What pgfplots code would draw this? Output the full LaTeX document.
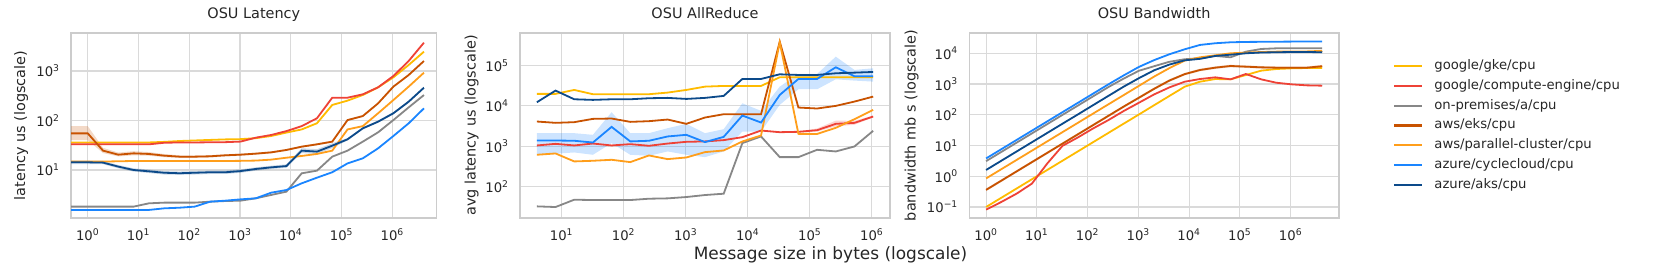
\documentclass[border=0pt]{standalone}
\usepackage{pgfplots}
\pgfplotsset{compat=1.18}
\usepackage{fontspec}
\setmainfont{DejaVu Sans}
\definecolor{cgke}{HTML}{FFBB00}
\definecolor{cgce}{HTML}{EE4236}
\definecolor{cprem}{HTML}{878787}
\definecolor{ceks}{HTML}{C85200}
\definecolor{cpc}{HTML}{FF9E1B}
\definecolor{ccc}{HTML}{1A85FF}
\definecolor{caks}{HTML}{0C4A8A}
\definecolor{spine}{HTML}{CCCCCC}
\definecolor{gridc}{HTML}{DADADA}
\definecolor{txt}{HTML}{262626}
\newcommand{\tl}[1]{10\textsuperscript{#1}}
\pgfplotsset{
  myosu/.style={
    scale only axis, anchor=south west,
    axis line style={draw=spine, line width=1.08pt},
    grid=major, major grid style={draw=gridc, line width=0.86pt},
    tick style={draw=none}, minor tick style={draw=none},
    tick label style={font=\fontsize{9.5}{11}\selectfont, text=txt},
    xticklabel style={anchor=base, yshift=-16.3pt, inner sep=0pt},
    yticklabel style={anchor=east, xshift=-7.9pt, inner sep=0pt},
    title style={font=\fontsize{10.4}{12}\selectfont, text=txt, at={(0.5,1)}, anchor=base, yshift=4.5pt, inner sep=0pt},
    ylabel style={font=\fontsize{10.4}{12}\selectfont, text=txt, anchor=center, inner sep=0pt},
    every axis plot/.append style={line width=1.3pt},
  }
}
\begin{document}
\begin{tikzpicture}
\useasboundingbox (0,0) rectangle (1195.92pt,189.36pt);
%%%%%%%%%%%%%%%% Panel 1: Latency
\begin{axis}[myosu, xmode=log, ymode=log, at={(51.12pt,32.4pt)}, width=263.3pt, height=133.2pt,
  xmin=0.4677, xmax=7.48e6, ymin=1.072, ymax=5860,
  xtick={1,10,100,1000,10000,100000,1000000},
  xticklabels={\tl{0},\tl{1},\tl{2},\tl{3},\tl{4},\tl{5},\tl{6}},
  ytick={10,100,1000}, yticklabels={\tl{1},\tl{2},\tl{3}},
  title={OSU Latency}, ylabel={latency us (logscale)},
  ylabel style={at={(axis description cs:-0.1366,0.5)}}]
% bands (upper forward, lower backward)
\addplot[fill=ceks, fill opacity=0.22, draw=none, forget plot] coordinates {(0.45,77)(1,77)(2,28)(4,22.5)(8,24)(16,23)(32,21)(64,19.8)(128,19.6)(256,19.9)(512,20.8)(1024,21.4)(2048,22.4)(4096,23.7)(8192,26.5)(16384,31)(32768,34.5)(65536,39)(131072,106)(262144,128)(524288,230)(1048576,500)(2097152,860)(4194304,1650)
(4194304,1535)(2097152,800)(1048576,466)(524288,214)(262144,118)(131072,98)(65536,35.8)(32768,31.6)(16384,28.3)(8192,24.3)(4096,21.7)(2048,20.4)(1024,19.4)(512,18.8)(256,17.9)(128,17.6)(64,17.5)(32,18.2)(16,19.4)(8,19.8)(4,18.8)(2,22)(1,40)(0.45,40)} -- cycle;
\addplot[fill=caks, fill opacity=0.22, draw=none, forget plot] coordinates {(0.45,15.4)(1,15.4)(2,15.2)(4,12.6)(8,10.8)(16,10.2)(32,9.5)(64,9.3)(128,9.5)(256,9.7)(512,9.7)(1024,10.3)(2048,11.3)(4096,12.2)(8192,13.0)(16384,27.5)(32768,26.3)(65536,34.7)(131072,44)(262144,73)(524288,100)(1048576,148)(2097152,253)(4194304,485)
(4194304,437)(2097152,228)(1048576,133)(524288,90)(262144,66)(131072,39.5)(65536,27.7)(32768,21)(16384,22)(8192,11.1)(4096,10.5)(2048,9.7)(1024,8.8)(512,8.3)(256,8.3)(128,8.1)(64,8.0)(32,8.1)(16,8.7)(8,9.3)(4,10.8)(2,13.1)(1,13.2)(0.45,13.2)} -- cycle;
% lines
\addplot[cgke] coordinates {(0.45,36)(1,36)(2,36)(4,36)(8,36)(16,36)(32,37)(64,38.5)(128,39.5)(256,40.5)(512,41.5)(1024,42)(2048,44)(4096,48.6)(8192,57)(16384,66)(32768,88)(65536,206)(131072,252)(262144,328)(524288,468)(1048576,745)(2097152,1323)(4194304,2457)};
\addplot[cgce] coordinates {(0.45,33)(1,33)(2,33)(4,33)(8,33)(16,33)(32,35.5)(64,36)(128,36)(256,36.3)(512,36.5)(1024,37.5)(2048,45)(4096,51)(8192,61)(16384,77)(32768,111)(65536,289)(131072,289)(262144,338)(524288,468)(1048576,793)(2097152,1592)(4194304,3735)};
\addplot[cprem] coordinates {(0.45,1.82)(1,1.82)(2,1.82)(4,1.82)(8,1.82)(16,2.12)(32,2.19)(64,2.19)(128,2.19)(256,2.29)(512,2.36)(1024,2.40)(2048,2.68)(4096,3.13)(8192,3.65)(16384,8.57)(32768,9.7)(65536,18.6)(131072,24.6)(262144,37.4)(524288,57.7)(1048576,102)(2097152,184)(4194304,327)};
\addplot[ceks] coordinates {(0.45,55)(1,55)(2,24.6)(4,20.4)(8,21.7)(16,21.1)(32,19.5)(64,18.6)(128,18.6)(256,18.9)(512,19.8)(1024,20.4)(2048,21.4)(4096,22.7)(8192,25.4)(16384,29.6)(32768,33)(65536,37.4)(131072,102)(262144,123)(524288,222)(1048576,483)(2097152,830)(4194304,1592)};
\addplot[cpc] coordinates {(0.45,14.8)(1,14.8)(2,14.8)(4,15)(8,15.2)(16,15.2)(32,15.2)(64,15.2)(128,15.2)(256,15.2)(512,15.2)(1024,15.3)(2048,15.5)(4096,16.2)(8192,17.7)(16384,19.2)(32768,21.1)(65536,24.6)(131072,66)(262144,77)(524288,140)(1048576,259)(2097152,483)(4194304,925)};
\addplot[ccc] coordinates {(0.45,1.56)(1,1.56)(2,1.56)(4,1.56)(8,1.56)(16,1.56)(32,1.68)(64,1.73)(128,1.82)(256,2.29)(512,2.40)(1024,2.55)(2048,2.68)(4096,3.48)(8192,3.94)(16384,5.38)(32768,7.0)(65536,9.0)(131072,13.6)(262144,17.2)(524288,27.4)(1048576,48.6)(2097152,87.7)(4194304,176)};
\addplot[caks] coordinates {(0.45,14.3)(1,14.3)(2,14.1)(4,11.7)(8,10.0)(16,9.4)(32,8.8)(64,8.6)(128,8.8)(256,9.0)(512,9.0)(1024,9.5)(2048,10.5)(4096,11.3)(8192,12.0)(16384,24.6)(32768,23.5)(65536,31)(131072,41.7)(262144,69.5)(524288,94.7)(1048576,140)(2097152,240)(4194304,460)};
\end{axis}
%%%%%%%%%%%%%%%% Panel 2: AllReduce
\begin{axis}[myosu, xmode=log, ymode=log, at={(374.4pt,32.4pt)}, width=266.4pt, height=133.2pt,
  xmin=2.14, xmax=1.96e6, ymin=16.4, ymax=6.47e5,
  xtick={10,100,1000,10000,100000,1000000},
  xticklabels={\tl{1},\tl{2},\tl{3},\tl{4},\tl{5},\tl{6}},
  ytick={100,1000,10000,100000}, yticklabels={\tl{2},\tl{3},\tl{4},\tl{5}},
  title={OSU AllReduce}, ylabel={avg latency us (logscale)},
  ylabel style={at={(axis description cs:-0.1305,0.5)}}]
\addplot[fill=ccc, fill opacity=0.22, draw=none, forget plot] coordinates {(4,2100)(8,2100)(16,2100)(32,1910)(64,6960)(128,2100)(256,2100)(512,2790)(1024,3580)(2048,2100)(4096,2640)(8192,11600)(16384,7520)(32768,30100)(65536,62100)(131072,62100)(262144,167000)(524288,78200)(1048576,85900)
(1048576,40100)(524288,42500)(262144,45800)(131072,25900)(65536,25900)(32768,10600)(16384,2310)(8192,2310)(4096,738)(2048,533)(1024,610)(512,738)(256,576)(128,610)(64,1190)(32,610)(16,697)(8,646)(4,646)} -- cycle;
\addplot[fill=cgce, fill opacity=0.22, draw=none, forget plot] coordinates {(32768,2250)(65536,2320)(131072,2750)(262144,4300)(524288,4250)(1048576,5700)
(1048576,5200)(524288,3400)(262144,3100)(131072,2300)(65536,2220)(32768,2190)} -- cycle;
\addplot[cgke] coordinates {(4,19900)(8,19900)(16,24900)(32,19500)(64,19500)(128,19500)(256,19500)(512,21400)(1024,24900)(2048,30100)(4096,31300)(8192,31300)(16384,31300)(32768,51400)(65536,51400)(131072,51400)(262144,51400)(524288,51400)(1048576,51400)};
\addplot[cgce] coordinates {(4,1040)(8,1140)(16,1040)(32,1160)(64,1040)(128,1120)(256,1020)(512,1160)(1024,1280)(2048,1310)(4096,1410)(8192,1670)(16384,2440)(32768,2220)(65536,2270)(131072,2490)(262144,3580)(524288,3790)(1048576,5450)};
\addplot[cprem] coordinates {(4,31.9)(8,30.7)(16,46.7)(32,45.8)(64,45.8)(128,45.8)(256,49.4)(512,50.4)(1024,54.4)(2048,61)(4096,65.8)(8192,1190)(16384,1740)(32768,533)(65536,533)(131072,811)(262144,738)(524288,982)(1048576,2400)};
\addplot[ceks] coordinates {(4,4090)(8,3790)(16,3940)(32,4760)(64,4850)(128,4010)(256,4170)(512,4580)(1024,3580)(2048,5140)(4096,6210)(8192,6210)(16384,6210)(32768,393000)(65536,9100)(131072,8600)(262144,10000)(524288,12800)(1048576,17000)};
\addplot[cpc] coordinates {(4,610)(8,658)(16,417)(32,433)(64,458)(128,401)(256,587)(512,476)(1024,523)(2048,710)(4096,781)(8192,1306)(16384,1840)(32768,380000)(65536,2020)(131072,2010)(262144,2850)(524288,4670)(1048576,7960)};
\addplot[ccc] coordinates {(4,1380)(8,1380)(16,1360)(32,1230)(64,3010)(128,1310)(256,1360)(512,1740)(1024,1910)(2048,1260)(4096,1700)(8192,5750)(16384,3860)(32768,18700)(65536,46700)(131072,46700)(262144,91000)(524288,54500)(1048576,54500)};
\addplot[caks] coordinates {(4,12300)(8,24000)(16,14600)(32,14100)(64,14600)(128,14600)(256,15500)(512,15800)(1024,14900)(2048,15800)(4096,17700)(8192,46700)(16384,46700)(32768,60900)(65536,58700)(131072,58700)(262144,64600)(524288,67000)(1048576,69600)};
\end{axis}
%%%%%%%%%%%%%%%% Panel 3: Bandwidth
\begin{axis}[myosu, xmode=log, ymode=log, at={(697.9pt,32.4pt)}, width=266.2pt, height=133.2pt,
  xmin=0.4666, xmax=8.99e6, ymin=0.0438, ymax=4.57e4,
  xtick={1,10,100,1000,10000,100000,1000000},
  xticklabels={\tl{0},\tl{1},\tl{2},\tl{3},\tl{4},\tl{5},\tl{6}},
  ytick={0.1,1,10,100,1000,10000}, yticklabels={\tl{−1},\tl{0},\tl{1},\tl{2},\tl{3},\tl{4}},
  title={OSU Bandwidth}, ylabel={bandwidth mb s (logscale)},
  ylabel style={at={(axis description cs:-0.156,0.5)}},
  legend cell align=left,
  legend image code/.code={\draw[#1, line width=1.5pt] (0pt,0pt) -- (20.2pt,0pt);},
  legend image post style={line width=1.5pt},
  legend style={at={(1.146,0.8546)}, anchor=north west, draw=none, fill=none,
    font=\fontsize{9.5}{11}\selectfont, text=txt, inner sep=0pt, column sep=7.9pt, row sep=5.18pt,
    nodes={inner sep=0pt, text height=7pt, text depth=2pt}}]
\addplot[fill=ceks, fill opacity=0.22, draw=none, forget plot] coordinates {(1,0.40)(2,0.79)(4,1.58)(8,3.17)(16,6.3)(32,12.7)(64,25.3)(128,50.6)(256,101)(512,202)(1024,394)(2048,770)(4096,1430)(8192,2310)(16384,3150)(32768,3750)(65536,4250)(131072,4040)(262144,3840)(524288,3740)(1048576,3740)(2097152,3740)(4194304,4180)
(4194304,3450)(2097152,3090)(1048576,3090)(524288,3090)(262144,3170)(131072,3340)(65536,3510)(32768,3100)(16384,2600)(8192,1910)(4096,1180)(2048,636)(1024,325)(512,167)(256,83.6)(128,41.8)(64,20.9)(32,10.5)(16,5.2)(8,2.62)(4,1.31)(2,0.655)(1,0.327)} -- cycle;
\addplot[fill=caks, fill opacity=0.22, draw=none, forget plot] coordinates {(1,1.70)(2,3.39)(4,6.8)(8,13.6)(16,27.1)(32,54.3)(64,108)(128,217)(256,435)(512,868)(1024,1640)(2048,2970)(4096,4560)(8192,6250)(16384,7000)(32768,8690)(65536,9540)(131072,10600)(262144,11240)(524288,11450)(1048576,11660)(2097152,11660)(4194304,11450)
(4194304,10190)(2097152,10380)(1048576,10380)(524288,10190)(262144,10000)(131072,9430)(65536,8490)(32768,7740)(16384,6230)(8192,5570)(4096,4060)(2048,2640)(1024,1460)(512,773)(256,387)(128,193)(64,96.2)(32,48.3)(16,24.2)(8,12.1)(4,6.0)(2,3.02)(1,1.51)} -- cycle;
\addplot[cgke] coordinates {(1,0.1)(2,0.2)(4,0.4)(8,0.8)(16,1.6)(32,3.2)(64,6.4)(128,12.8)(256,25.6)(512,51.2)(1024,102)(2048,205)(4096,410)(8192,819)(16384,1190)(32768,1455)(65536,1420)(131072,1960)(262144,2720)(524288,3080)(1048576,3240)(2097152,3320)(4194304,3320)};
\addlegendentry{google/gke/cpu}
\addplot[cgce] coordinates {(1,0.082)(2,0.146)(4,0.272)(8,0.577)(16,2.59)(32,9.75)(64,18.2)(128,35.8)(256,67)(512,132)(1024,246)(2048,460)(4096,778)(8192,1190)(16384,1455)(32768,1650)(65536,1420)(131072,2120)(262144,1420)(524288,1100)(1048576,975)(2097152,905)(4194304,883)};
\addlegendentry{google/compute-engine/cpu}
\addplot[cprem] coordinates {(1,3.1)(2,6.2)(4,12.4)(8,24.8)(16,49.6)(32,99.2)(64,198)(128,397)(256,794)(512,1500)(1024,2700)(2048,3800)(4096,5300)(8192,6400)(16384,6900)(32768,8200)(65536,7400)(131072,11300)(262144,13800)(524288,14500)(1048576,14600)(2097152,14600)(4194304,14600)};
\addlegendentry{on-premises/a/cpu}
\addplot[ceks] coordinates {(1,0.36)(2,0.72)(4,1.44)(8,2.88)(16,5.76)(32,11.5)(64,23)(128,46)(256,92)(512,184)(1024,358)(2048,700)(4096,1300)(8192,2100)(16384,2860)(32768,3410)(65536,3860)(131072,3670)(262144,3490)(524288,3400)(1048576,3400)(2097152,3400)(4194304,3800)};
\addlegendentry{aws/eks/cpu}
\addplot[cpc] coordinates {(1,0.85)(2,1.7)(4,3.4)(8,6.8)(16,13.6)(32,27.2)(64,54.4)(128,109)(256,218)(512,435)(1024,870)(2048,1750)(4096,3300)(8192,5800)(16384,7400)(32768,8600)(65536,10000)(131072,10500)(262144,11000)(524288,11300)(1048576,11300)(2097152,11500)(4194304,12000)};
\addlegendentry{aws/parallel-cluster/cpu}
\addplot[ccc] coordinates {(1,3.8)(2,7.6)(4,15.2)(8,30.4)(16,60.8)(32,121.6)(64,243)(128,486)(256,973)(512,1900)(1024,3600)(2048,6000)(4096,9300)(8192,13500)(16384,18700)(32768,21200)(65536,22800)(131072,23400)(262144,23600)(524288,23800)(1048576,24000)(2097152,24000)(4194304,24000)};
\addlegendentry{azure/cyclecloud/cpu}
\addplot[caks] coordinates {(1,1.6)(2,3.2)(4,6.4)(8,12.8)(16,25.6)(32,51.2)(64,102)(128,205)(256,410)(512,819)(1024,1550)(2048,2800)(4096,4300)(8192,5900)(16384,6600)(32768,8200)(65536,9000)(131072,10000)(262144,10600)(524288,10800)(1048576,11000)(2097152,11000)(4194304,10800)};
\addlegendentry{azure/aks/cpu}
\end{axis}
\node[anchor=base, text=txt, font=\fontsize{12.2}{14}\selectfont, inner sep=0pt] at (597.96pt,2.4pt) {Message size in bytes (logscale)};
\end{tikzpicture}
\end{document}
